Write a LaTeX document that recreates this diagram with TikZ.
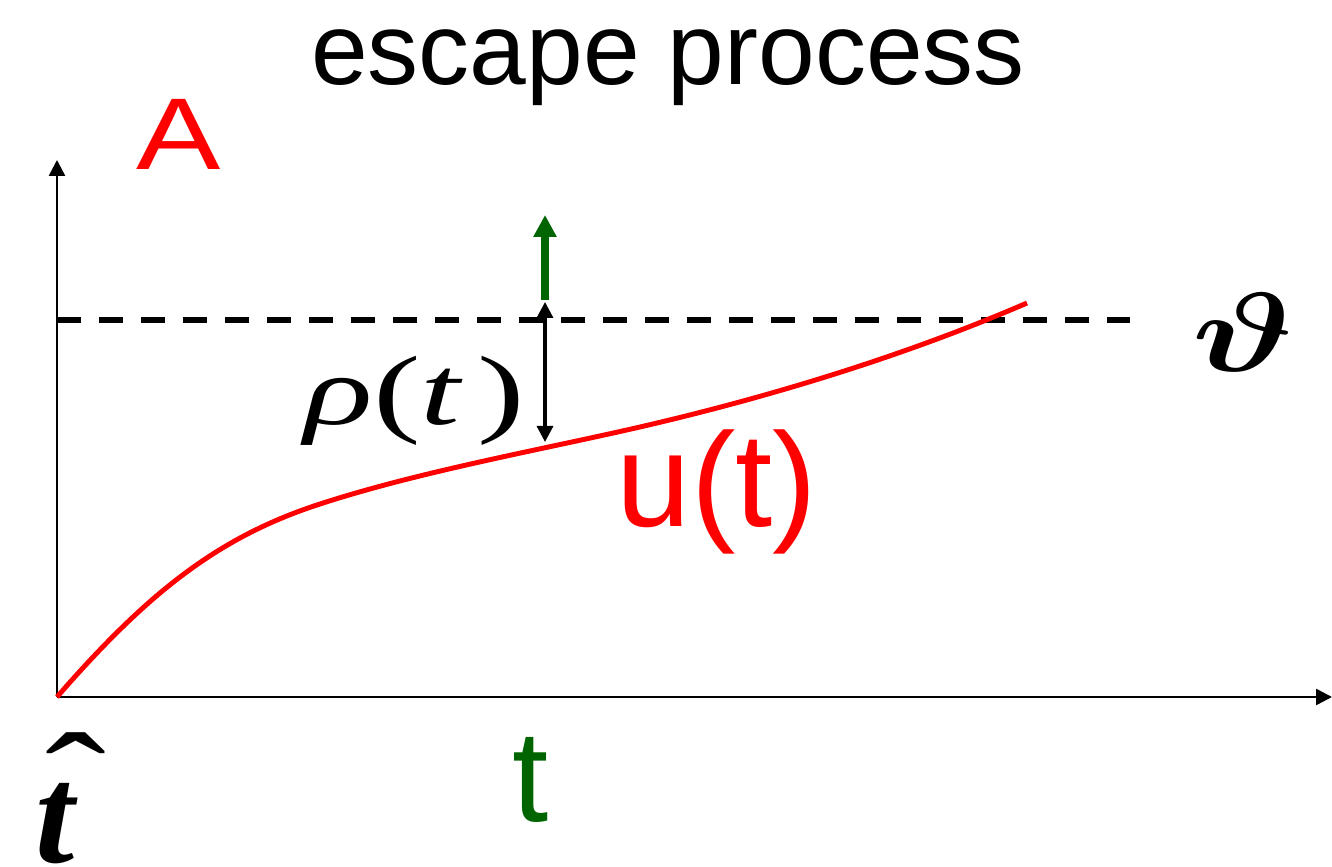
\documentclass[tikz,border=0pt]{standalone}
\usepackage{amsmath}
\usepackage{bm}
\usepackage{fontspec}
\setsansfont{Liberation Sans}
\newfontfamily\tnr{Liberation Serif}
\usetikzlibrary{arrows.meta}
\definecolor{darkgreen}{RGB}{0,100,0}

\begin{document}
\begin{tikzpicture}[line width=0.7pt,>={Triangle[length=1.6mm,width=1.6mm]},
  sflbl/.style={font=\sffamily\fontsize{29}{32}\selectfont,anchor=base},
  mathlbl/.style={font=\Huge,anchor=base}]
  \useasboundingbox (0,0) rectangle (13.32,8.67);
  % ejes
  \coordinate (O) at (0.57,1.70);
  \coordinate (ytop) at (0.57,7.07);
  \coordinate (xend) at (13.32,1.70);
  \draw[->] (O)--(ytop);
  \draw[->] (O)--(xend);
  % umbral
  \coordinate (th0) at (0.57,5.47);
  \coordinate (th1) at (11.30,5.47);
  \draw[dash pattern=on 0.24cm off 0.18cm,line width=1.7pt] (th0)--(th1);
  % u(t)
  \draw[red,line width=1.4pt] (O) .. controls (1.47,2.735) and (2.17,3.29) .. (3.17,3.62)
    .. controls (4.17,3.95) and (5.40,4.17) .. (6.40,4.40)
    .. controls (7.70,4.70) and (9.07,5.12) .. (10.27,5.64);
  % distancia y escape
  \coordinate (rtop) at (5.45,5.65); \coordinate (rbot) at (5.45,4.25);
  \draw[<->,line width=0.9pt] (rtop)--(rbot);
  \coordinate (g0) at (5.45,5.67); \coordinate (g1) at (5.45,6.52);
  \draw[->,darkgreen,line width=2pt,>={Triangle[length=2.2mm,width=2.2mm]}] (g0)--(g1);
  % textos
  \node[sflbl] (title) at (6.68,7.82){escape process};
  \node[sflbl,red,font=\sffamily\fontsize{29}{34}\selectfont,xscale=1.24] (lblA) at (1.785,6.97){A};
  \node[sflbl,red,font=\sffamily\fontsize{38}{42}\selectfont] (lblu) at (7.17,3.40){u(t)};
  \node[sflbl,darkgreen,font=\sffamily\fontsize{37}{40}\selectfont] (lblt) at (5.31,0.45){t};
  \node[anchor=base,font=\tnr\fontsize{28}{32}\selectfont,xscale=1.45] (lblrho) at (4.15,4.42){\textit{ρ}(\textit{t}\kern0.1em)};
  \node[mathlbl,scale=1.29,xscale=1.3] (lbltheta) at (12.43,4.95){$\bm{\vartheta}$};
  \node[anchor=base,font=\tnr\bfseries\itshape\fontsize{40}{44}\selectfont] (lblthat) at (0.55,0.04){\ooalign{t\cr\hidewidth\kern0.3em\raisebox{0.23em}{\mdseries\upshape\scalebox{1.3}[1]{ˆ}}\hidewidth\cr}};
\end{tikzpicture}
\end{document}
